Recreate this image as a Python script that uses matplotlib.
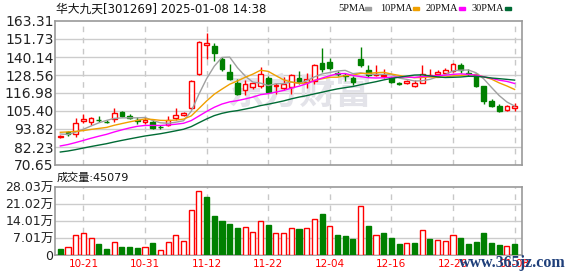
import numpy as np
import pandas as pd
import matplotlib
matplotlib.use("Agg")
import matplotlib.pyplot as plt
from matplotlib.patches import Rectangle

plt.rcParams['font.family'] = ['DejaVu Sans', 'Noto Sans CJK SC']

stock_name = "华大九天"
stock_code = "301269"
stamp = "2025-01-08 14:38"

# daily OHLC, 2024-10-16 .. 2025-01-08 (60 sessions)
open_ = [88.9, 92.1, 90.4, 99.0, 98.6, 99.8, 98.4, 100.3, 104.8, 102.2,
         99.6, 98.4, 98.6, 95.2, 96.2, 100.9, 103.1, 107.4, 129.2, 148.1,
         147.2, 138.7, 130.7, 123.6, 118.7, 121.1, 121.5, 126.4, 121.7, 120.0,
         120.9, 126.4, 124.1, 124.7, 136.5, 137.2, 129.6, 128.6, 126.9, 138.7,
         131.6, 128.4, 127.6, 126.9, 123.1, 123.4, 121.5, 123.6, 128.0, 129.0,
         129.9, 131.1, 134.8, 129.5, 129.0, 121.5, 111.6, 108.6, 106.1, 107.1]
high = [90.2, 92.5, 101.1, 103.3, 101.6, 102.4, 99.6, 107.1, 105.3, 103.3,
        101.8, 101.6, 99.4, 96.2, 102.2, 107.6, 105.0, 125.1, 150.2, 155.8,
        149.4, 140.2, 135.4, 125.8, 125.1, 123.6, 133.9, 127.9, 123.6, 127.3,
        129.0, 131.1, 130.1, 135.4, 146.2, 139.7, 131.0, 129.6, 127.9, 146.4,
        134.8, 134.8, 132.2, 127.5, 124.1, 125.4, 125.4, 134.8, 132.2, 131.6,
        133.3, 136.5, 136.1, 132.6, 129.6, 121.5, 112.9, 109.7, 109.1, 110.8]
low = [88.3, 89.6, 88.7, 97.9, 96.4, 98.6, 97.7, 98.6, 101.8, 100.5,
       97.3, 97.3, 93.6, 94.1, 95.6, 99.4, 102.2, 107.0, 128.4, 139.1,
       137.6, 131.1, 125.2, 115.7, 115.7, 119.3, 120.4, 117.0, 116.1, 118.7,
       116.1, 123.0, 120.0, 123.0, 130.7, 131.6, 128.0, 125.0, 121.9, 133.7,
       127.3, 127.6, 126.9, 123.2, 121.9, 123.0, 120.9, 123.6, 127.7, 128.4,
       129.2, 130.7, 130.1, 127.7, 121.1, 110.1, 108.2, 104.8, 105.4, 105.4]
close = [89.3, 90.4, 97.9, 100.5, 100.7, 99.4, 98.2, 104.3, 102.2, 101.0,
         99.2, 99.4, 94.5, 95.0, 99.4, 102.6, 104.1, 124.9, 150.0, 149.4,
         142.9, 132.2, 125.8, 116.1, 122.6, 123.2, 129.0, 117.9, 122.1, 122.6,
         128.8, 124.3, 126.2, 134.8, 132.2, 133.3, 129.2, 128.2, 124.3, 134.8,
         128.6, 128.9, 128.5, 124.1, 122.8, 124.5, 123.6, 129.4, 128.5, 130.7,
         131.6, 135.9, 131.6, 129.2, 121.5, 111.9, 108.6, 105.4, 108.6, 108.4]
# closes before the window, only needed so the moving averages start where they do
prev_close = [70.5, 71.0, 70.2, 71.5, 72.0, 71.3, 70.8, 71.6, 72.1, 71.0,
              71.8, 72.5, 73.0, 72.4, 73.6, 74.2, 73.8, 75.0, 76.1, 78.6,
              88.0, 94.3, 95.5, 93.2, 93.0, 91.8, 90.5, 91.2, 90.2]
# volume in 万 (10k lots)
volume = [2.5, 3.1, 8.1, 9.0, 6.8, 4.5, 2.5, 5.3, 3.3, 3.3,
          2.9, 3.1, 4.9, 1.9, 5.3, 8.1, 5.6, 18.3, 26.1, 23.8,
          16.0, 13.9, 12.7, 11.1, 11.3, 9.3, 13.8, 12.3, 9.0, 9.0,
          10.9, 10.7, 10.9, 14.6, 16.8, 11.8, 8.2, 7.8, 6.6, 20.0,
          11.9, 8.1, 9.0, 7.0, 4.5, 4.8, 4.9, 10.1, 6.6, 6.0,
          5.6, 8.1, 7.0, 4.5, 5.3, 9.0, 4.9, 4.1, 3.6, 4.5079]

price_ticks = [70.65, 82.23, 93.82, 105.40, 116.98, 128.56, 140.14, 151.73, 163.31]
vol_ticks = [0, 7.01, 14.01, 21.02, 28.03]
ma_periods = [5, 10, 20, 30]
ma_colors = ['#a0a0a0', '#f0a000', '#ff00ff', '#006b35']

RED = '#ff0000'
GREEN = '#008000'

dates = pd.bdate_range("2024-10-16", "2025-01-08")
dates = dates[dates != pd.Timestamp("2025-01-01")]
n = len(close)
x = np.arange(n)
tick_idx = list(range(3, n, 8))
tick_lab = [dates[i].strftime("%m-%d") for i in tick_idx]

o = np.array(open_)
c = np.array(close)
h = np.array(high)
l = np.array(low)
up = c >= o
prev = np.r_[prev_close[-1], c[:-1]]
vol_up = c >= prev

W, H = 578, 276
fig = plt.figure(figsize=(W / 100, H / 100), dpi=100)
ax = fig.add_axes([55 / W, 1 - 165 / H, 467 / W, 144 / H])
axv = fig.add_axes([55 / W, 1 - 255 / H, 467 / W, 68.5 / H])


def style(a):
    for s in a.spines.values():
        s.set_color('#999999')
        s.set_linewidth(1.2)
    a.tick_params(length=0)
    a.set_xlim(-0.69, n - 0.04)
    a.set_xticks(tick_idx)
    for t in tick_idx:
        a.axvline(t, color='#c8c8c8', lw=1, ls=(0, (4, 4)), zorder=0)


# price panel
style(ax)
ax.set_ylim(price_ticks[0], price_ticks[-1])
ax.set_yticks(price_ticks)
ax.set_yticklabels([f"{v:.2f}" for v in price_ticks], fontsize=10, color='#222222')
ax.tick_params(axis='y', pad=1)
ax.set_xticklabels([])
for v in price_ticks[1:-1]:
    ax.axhline(v, color='#cccccc', lw=1, zorder=0)
ax.text(0.525, 0.5, "东方财富", transform=ax.transAxes, fontsize=26,
        fontweight='bold', color='#e3e3e9', ha='center', va='center',
        family=['Noto Sans CJK SC'], zorder=0)

cols = np.where(up, RED, GREEN)
ax.vlines(x, l, h, colors=cols, lw=1, zorder=2)
body_lo = np.minimum(o, c)
body_h = np.maximum(np.abs(c - o), 0.35)
ax.bar(x[up], body_h[up], bottom=body_lo[up], width=0.62, facecolor='white',
       edgecolor=RED, lw=1, zorder=3)
ax.bar(x[~up], body_h[~up], bottom=body_lo[~up], width=0.62, facecolor=GREEN,
       edgecolor=GREEN, lw=1, zorder=3)

full = pd.Series(prev_close + close)
for p, col in zip(ma_periods, ma_colors):
    ma = full.rolling(p).mean().iloc[len(prev_close):].values
    ax.plot(x, ma, color=col, lw=1, zorder=4)

# volume panel
style(axv)
axv.set_ylim(vol_ticks[0], vol_ticks[-1])
axv.set_yticks(vol_ticks)
axv.set_yticklabels(['0'] + [f"{v:.2f}万" for v in vol_ticks[1:]], fontsize=9,
                    color='#222222')
axv.tick_params(axis='y', pad=1)
axv.set_xticklabels(tick_lab, fontsize=7.5, color=RED)
axv.tick_params(axis='x', pad=3)
for v in vol_ticks[1:-1]:
    axv.axhline(v, color='#cccccc', lw=1, zorder=0)
vol = np.array(volume)
axv.bar(x[vol_up], vol[vol_up], width=0.66, facecolor='white', edgecolor=RED,
        lw=1, zorder=3)
axv.bar(x[~vol_up], vol[~vol_up], width=0.66, facecolor=GREEN, edgecolor=GREEN,
        lw=1, zorder=3)

# header texts
fig.text(56 / W, 1 - 9 / H, f"{stock_name}[{stock_code}] {stamp}", fontsize=8.5,
         va='center', ha='left', color='#111111')
fig.text(57 / W, 1 - 177.5 / H, f"成交量:{int(round(volume[-1] * 10000))}",
         fontsize=8, va='center', ha='left', color='#111111')

leg_x = [338, 380, 426, 472]
for p, col, lx in zip(ma_periods, ma_colors, leg_x):
    t = fig.text(lx / W, 1 - 8.5 / H, f"{p}PMA", fontsize=7.5, va='center',
                 ha='left', family='Liberation Serif', color='#111111')
    sw = 365 + (lx - 338) + (len(str(p)) - 1) * 6
    fig.patches.append(Rectangle((sw / W, 1 - 10 / H), 6 / W, 3 / H,
                                 transform=fig.transFigure, color=col))

# site watermark, sits over the last date label as in the source image
fig.text(512 / W, 1 - 263 / H, "www.365jz.com", fontsize=11.5, ha='center',
         va='center', family='Liberation Serif', fontweight='bold',
         color='#1f3f7a')

fig.savefig("out.png", dpi=100)
